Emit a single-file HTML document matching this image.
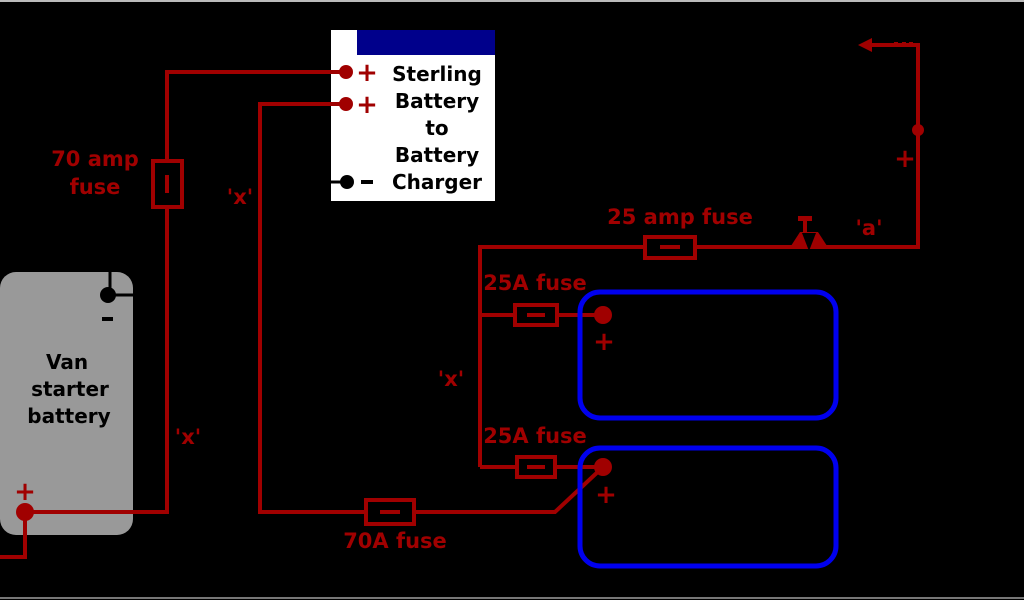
<!DOCTYPE html>
<html><head><meta charset="utf-8"><style>
html,body{margin:0;padding:0;background:#000;width:1024px;height:600px;overflow:hidden}
svg{display:block}
.r{fill:#a00000;font-family:"DejaVu Sans","Liberation Sans",sans-serif;font-weight:bold}
.k{fill:#000;font-family:"DejaVu Sans","Liberation Sans",sans-serif;font-weight:bold}
</style></head><body>
<svg width="1024" height="600" viewBox="0 0 1024 600" xmlns="http://www.w3.org/2000/svg">
<rect x="0" y="0" width="1024" height="600" fill="#000"/>
<line x1="0" y1="1" x2="1024" y2="1" stroke="#bbb" stroke-width="2"/>
<line x1="0" y1="598" x2="1024" y2="598" stroke="#777" stroke-width="2"/>
<!-- charger -->
<rect x="331" y="30" width="164" height="171" fill="#fff"/>
<rect x="357" y="30" width="138" height="25" fill="#00008b"/>
<g class="k" font-size="20" text-anchor="middle">
<text x="437" y="81">Sterling</text>
<text x="437" y="108">Battery</text>
<text x="437" y="135">to</text>
<text x="437" y="162">Battery</text>
<text x="437" y="189">Charger</text>
</g>
<!-- van battery -->
<rect x="0" y="272" width="133" height="263" rx="16" fill="#999"/>
<line x1="110" y1="272" x2="110" y2="295" stroke="#000" stroke-width="3"/>
<line x1="110" y1="295" x2="133" y2="295" stroke="#000" stroke-width="3"/>
<circle cx="108" cy="295" r="8" fill="#000"/>
<rect x="102" y="317" width="11" height="4" fill="#000"/>
<g class="k" font-size="20" text-anchor="middle">
<text x="67" y="369">Van</text>
<text x="70" y="396">starter</text>
<text x="69" y="423">battery</text>
</g>
<!-- wires -->
<g stroke="#a00000" stroke-width="4" fill="none">
<polyline points="346,72 167,72 167,512 25,512"/>
<polyline points="346,104 260,104 260,512 555,512 603,467"/>
<polyline points="480,467 480,247 918,247 918,45 870,45"/>
<line x1="480" y1="315" x2="603" y2="315"/>
<line x1="480" y1="467" x2="603" y2="467"/>
<polyline points="25,512 25,557 0,557"/>
<rect x="153" y="161" width="29" height="46" fill="#000"/>
<rect x="645" y="237" width="50" height="21" fill="#000"/>
<rect x="515" y="305" width="42" height="20" fill="#000"/>
<rect x="517" y="457" width="38" height="20" fill="#000"/>
<rect x="366" y="500" width="48" height="24" fill="#000"/>
</g>
<g fill="#a00000">
<rect x="165" y="175" width="4" height="18"/>
<rect x="660" y="245" width="20" height="4"/>
<rect x="527" y="313" width="18" height="4"/>
<rect x="527" y="465" width="18" height="4"/>
<rect x="380" y="510" width="20" height="4"/>
<circle cx="346" cy="72" r="7"/><circle cx="346" cy="104" r="7"/>
<circle cx="603" cy="315" r="9"/><circle cx="603" cy="467" r="9"/>
<circle cx="25" cy="512" r="9"/><circle cx="918" cy="130" r="6"/>
<polygon points="858,45 872,38 872,52"/>
<rect x="894" y="42" width="4" height="4"/><rect x="902" y="42" width="4" height="4"/><rect x="909" y="42" width="4" height="4"/>
<!-- switch -->
<polygon points="789,249 800,232 818,232 829,249"/>
<rect x="798" y="216" width="14" height="5"/><rect x="803" y="221" width="4" height="12"/>
</g>
<polygon points="802,233 816,233 809,251" fill="#000"/>
<!-- black minus terminal -->
<line x1="331" y1="182" x2="347" y2="182" stroke="#000" stroke-width="3"/>
<circle cx="347" cy="182" r="7" fill="#000"/>
<rect x="361" y="180" width="12" height="4" fill="#000"/>
<!-- blue batteries -->
<rect x="580" y="292" width="256" height="126" rx="20" fill="none" stroke="#0000ee" stroke-width="5"/>
<rect x="580" y="448" width="256" height="118" rx="20" fill="none" stroke="#0000ee" stroke-width="5"/>
<!-- labels -->
<g class="r" font-size="26" text-anchor="middle">
<text x="367" y="81">+</text><text x="367" y="113">+</text>
<text x="604" y="350">+</text><text x="606" y="503">+</text>
<text x="25" y="500">+</text><text x="905" y="167">+</text>
</g>
<g class="r" font-size="21" text-anchor="middle">
<text x="95" y="166">70 amp</text>
<text x="95" y="194">fuse</text>
<text x="240" y="204">'x'</text>
<text x="451" y="386">'x'</text>
<text x="188" y="444">'x'</text>
<text x="680" y="224">25 amp fuse</text>
<text x="535" y="290">25A fuse</text>
<text x="535" y="443">25A fuse</text>
<text x="395" y="548">70A fuse</text>
<text x="869" y="235">'a'</text>
</g>
</svg>
</body></html>
